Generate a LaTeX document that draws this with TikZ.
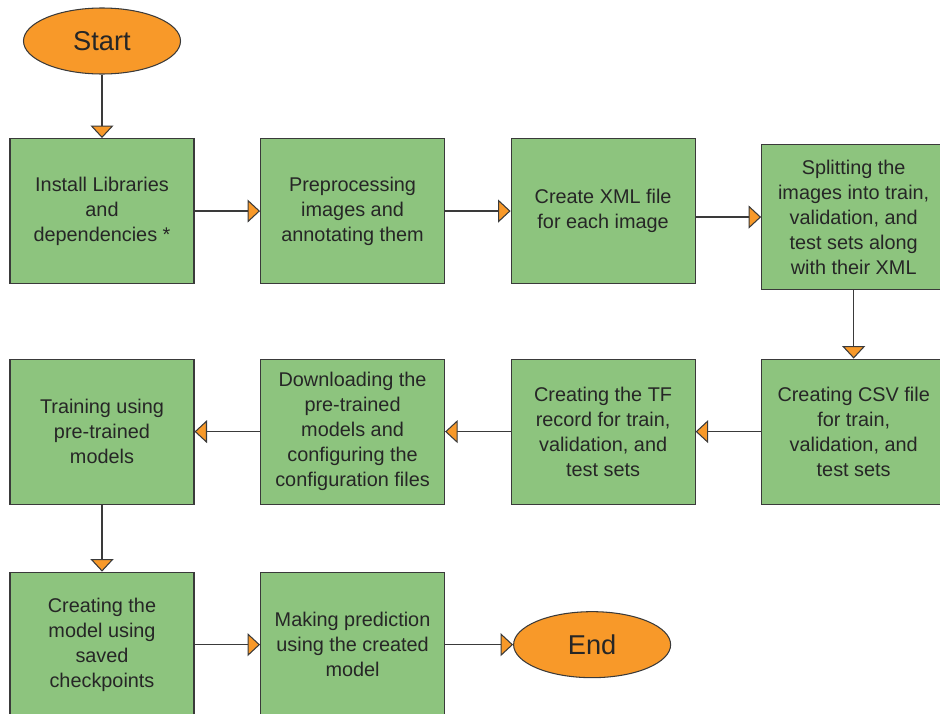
\documentclass[tikz,border=0pt]{standalone}
\usepackage{fontspec}
\setmainfont{Liberation Sans}
\usepackage{xcolor}
\usepackage{tikz}
\usetikzlibrary{shapes.geometric, arrows.meta, positioning}

\definecolor{boxgreen}{RGB}{141,196,126}
\definecolor{ovalorange}{RGB}{248,153,41}
\definecolor{edgegray}{RGB}{58,58,58}

\begin{document}
\begin{tikzpicture}[
  node distance=1.44cm and 1.31cm,
  stepbox/.style={draw=edgegray, line width=0.6pt, rectangle, fill=boxgreen,
                  minimum width=3.68cm, minimum height=2.9cm, inner sep=0pt,
                  align=center, text=black!85,
                  font={\fontsize{11.3pt}{14.2pt}\selectfont}},
  terminal/.style={draw=edgegray, line width=0.6pt, ellipse, fill=ovalorange,
                   minimum width=3.14cm, minimum height=1.32cm, inner sep=0pt,
                   text=black!85, font={\fontsize{15.5pt}{18pt}\selectfont}},
  arrow/.style={draw=edgegray, line width=0.85pt,
                -{Triangle[width=0.46cm, length=0.25cm, fill=ovalorange, line width=0.6pt]}},
]
\useasboundingbox (0,0) rectangle (18.8,-14.26);

%% Start
\node[terminal] (start) at (2.04,-0.82) {Start};

%% Row 1
\node[stepbox, below=1.27cm of start] (install)
  {Install Libraries\\ and\\ dependencies *};
\node[stepbox, right=of install] (preproc)
  {Preprocessing\\ images and\\ annotating them};
\node[stepbox, right=of preproc] (xml)
  {Create XML file\\ for each image};
\node[stepbox, right=of xml, yshift=-0.12cm] (split)
  {Splitting the\\ images into train,\\ validation, and\\ test sets along\\ with their XML};

%% Row 2 (right to left)
\node[stepbox, below=1.37cm of split] (csv)
  {Creating CSV file\\ for train,\\ validation, and\\ test sets};
\node[stepbox, left=of csv] (tfrec)
  {Creating the TF\\ record for train,\\ validation, and\\ test sets};
\node[stepbox, left=of tfrec] (download)
  {Downloading the\\ pre-trained\\ models and\\ configuring the\\ configuration files};
\node[stepbox, left=of download] (train)
  {Training using\\ pre-trained\\ models};

%% Row 3
\node[stepbox, below=1.34cm of train] (ckpt)
  {Creating the\\ model using\\ saved\\ checkpoints};
\node[stepbox, right=of ckpt] (predict)
  {Making prediction\\ using the created\\ model};
\node[terminal, right=1.36cm of predict] (end) {End};

%% Connectors
\draw[arrow] (start) -- (install);
\draw[arrow] (install) -- (preproc);
\draw[arrow] (preproc) -- (xml);
\draw[arrow] (xml.east |- split) -- (split);
\draw[arrow] (split) -- (csv);
\draw[arrow] (csv) -- (tfrec);
\draw[arrow] (tfrec) -- (download);
\draw[arrow] (download) -- (train);
\draw[arrow] (train) -- (ckpt);
\draw[arrow] (ckpt) -- (predict);
\draw[arrow] (predict) -- (end);

\end{tikzpicture}
\end{document}
